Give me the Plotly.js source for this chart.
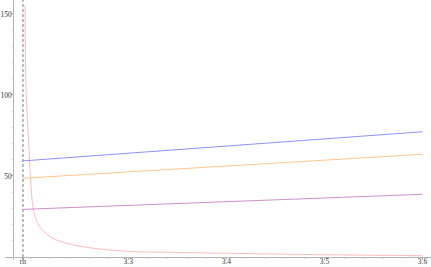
<!DOCTYPE html>
<html><head><meta charset="utf-8">
<script src="https://cdn.plot.ly/plotly-3.0.1.min.js"></script>
<style>html,body{margin:0;padding:0;background:#fff}#chart{width:431px;height:267px}</style>
</head><body><div id="chart"></div>
<script>
// ----- data -----
const rh = 3.1926;
const xMin = 3.17427, xMax = 3.60865;
const yMin = -1.85, yMax = 158.6;

const xLine = [3.1926, 3.4, 3.6];
const blueY = [59.3, 68.5, 77.3];
const orangeY = [48.6, 56.1, 63.4];
const purpleY = [29.4, 34.2, 38.7];

const pinkX = [3.1947, 3.1952, 3.1959, 3.1983, 3.2004, 3.2027, 3.2055, 3.2096, 3.2157, 3.2232, 3.2368, 3.2537, 3.2711, 3.3, 3.35, 3.4, 3.45, 3.5, 3.55, 3.6];
const pinkY = [155.5, 121.6, 100, 72.2, 47.5, 31, 24, 18.7, 14.8, 11.5, 8.5, 6.4, 4.9, 3.5, 2.8, 2.3, 1.8, 1.4, 1.1, 0.8];

const xTickVals = [rh, 3.3, 3.4, 3.5, 3.6];
const xTickText = ['rh', '3.3', '3.4', '3.5', '3.6'];
const yTickVals = [50, 100, 150];
const yTickText = ['50', '100', '150'];

const xfont = {family: 'Liberation Serif, Times New Roman, serif', size: 7.5, color: '#333'};
const yfont = {family: 'Liberation Serif, Times New Roman, serif', size: 7.5, color: '#333'};

const traces = [
  {x: [rh, rh], y: [0, yMax], mode: 'lines', line: {color: '#777', width: 1, dash: '3px,2px'}, hoverinfo: 'skip'},
  {x: pinkX, y: pinkY, mode: 'lines', line: {color: '#ffbcbc', width: 1, shape: 'spline'}},
  {x: xLine, y: blueY, mode: 'lines', line: {color: '#9090ff', width: 1}},
  {x: xLine, y: orangeY, mode: 'lines', line: {color: '#ffc68c', width: 1}},
  {x: xLine, y: purpleY, mode: 'lines', line: {color: '#cc90cc', width: 1}}
];

const layout = {
  width: 431, height: 267,
  margin: {l: 5, r: 0, t: 0, b: 7, pad: 0},
  paper_bgcolor: '#fff', plot_bgcolor: '#fff',
  showlegend: false,
  font: xfont,
  xaxis: {
    range: [xMin, xMax], anchor: 'free', position: (0 - yMin) / (yMax - yMin),
    showgrid: false, zeroline: false, showline: true, linecolor: '#b4b4b4', linewidth: 1,
    tickmode: 'array', tickvals: xTickVals, ticktext: xTickText,
    ticks: 'outside', ticklen: 2, tickcolor: '#b4b4b4', tickfont: xfont, ticklabelstandoff: -5,
    minor: {tickmode: 'linear', tick0: 3.3, dtick: 0.02, ticks: 'outside', ticklen: 1, tickcolor: '#d8d8d8'}
  },
  yaxis: {
    range: [yMin, yMax], anchor: 'free', position: (3.18274 - xMin) / (xMax - xMin),
    showgrid: false, zeroline: false, showline: true, linecolor: '#b4b4b4', linewidth: 1,
    tickmode: 'array', tickvals: yTickVals, ticktext: yTickText,
    ticks: 'outside', ticklen: 2, tickcolor: '#b4b4b4', tickfont: yfont, ticklabelstandoff: -2,
    minor: {tickmode: 'linear', tick0: 0, dtick: 10, ticks: 'outside', ticklen: 1.5, tickcolor: '#cfcfcf'}
  }
};

Plotly.newPlot('chart', traces, layout, {staticPlot: true, displayModeBar: false});
</script>
</body></html>
